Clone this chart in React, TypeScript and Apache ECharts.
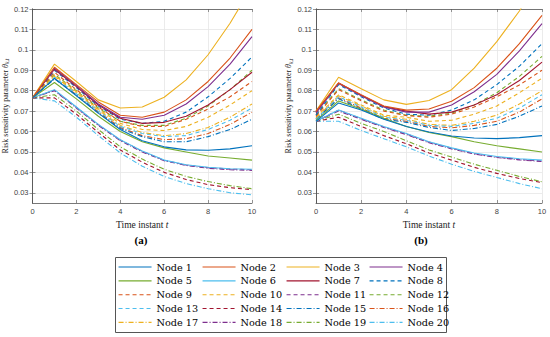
import React, { useEffect, useRef } from "react";
import * as echarts from "echarts";

const timeSteps = [0, 1, 2, 3, 4, 5, 6, 7, 8, 9, 10];
const nodeNames = Array.from({ length: 20 }, (_, i) => `Node ${i + 1}`);
const yTickValues = [0.03, 0.04, 0.05, 0.06, 0.07, 0.08, 0.09, 0.1, 0.11, 0.12];

// (a) values per node, t = 0..10
const thetaA: number[][] = [
  [0.0765, 0.086, 0.0775, 0.069, 0.061, 0.0555, 0.0525, 0.051, 0.0508, 0.0515, 0.053],
  [0.0765, 0.0915, 0.083, 0.0745, 0.068, 0.067, 0.0695, 0.0755, 0.0845, 0.096, 0.11],
  [0.0765, 0.093, 0.0845, 0.0755, 0.0715, 0.072, 0.0768, 0.0853, 0.0976, 0.113, 0.131],
  [0.0765, 0.091, 0.0825, 0.0735, 0.067, 0.066, 0.068, 0.0735, 0.082, 0.093, 0.1065],
  [0.0765, 0.084, 0.076, 0.0675, 0.06, 0.055, 0.052, 0.05, 0.048, 0.047, 0.046],
  [0.0765, 0.0805, 0.072, 0.0635, 0.056, 0.0505, 0.046, 0.0437, 0.0425, 0.0418, 0.0415],
  [0.0765, 0.0905, 0.082, 0.073, 0.0665, 0.064, 0.0645, 0.0675, 0.073, 0.0805, 0.089],
  [0.0765, 0.09, 0.0815, 0.0725, 0.066, 0.064, 0.065, 0.0695, 0.077, 0.086, 0.0965],
  [0.0765, 0.089, 0.0805, 0.072, 0.065, 0.0625, 0.0625, 0.066, 0.071, 0.077, 0.0845],
  [0.0765, 0.0875, 0.0795, 0.071, 0.064, 0.061, 0.0605, 0.0625, 0.067, 0.073, 0.08],
  [0.0765, 0.0802, 0.0718, 0.0633, 0.0558, 0.0503, 0.0459, 0.0436, 0.0423, 0.0416, 0.0413],
  [0.0765, 0.088, 0.08, 0.0715, 0.065, 0.063, 0.063, 0.0665, 0.0725, 0.0805, 0.09],
  [0.0765, 0.0865, 0.0785, 0.07, 0.0625, 0.059, 0.0575, 0.058, 0.061, 0.0655, 0.0715],
  [0.0765, 0.0765, 0.0685, 0.0595, 0.051, 0.045, 0.04, 0.0365, 0.034, 0.0325, 0.0315],
  [0.0765, 0.0858, 0.0778, 0.069, 0.0615, 0.0575, 0.055, 0.055, 0.0575, 0.061, 0.066],
  [0.0765, 0.086, 0.078, 0.0695, 0.062, 0.058, 0.056, 0.0565, 0.059, 0.0635, 0.0695],
  [0.0765, 0.087, 0.079, 0.0705, 0.063, 0.0595, 0.058, 0.059, 0.062, 0.067, 0.0735],
  [0.0765, 0.08, 0.0715, 0.063, 0.0555, 0.05, 0.0457, 0.0434, 0.042, 0.0413, 0.041],
  [0.0765, 0.078, 0.07, 0.061, 0.0525, 0.0465, 0.0415, 0.038, 0.0355, 0.0335, 0.032],
  [0.0765, 0.075, 0.067, 0.058, 0.0495, 0.043, 0.038, 0.0345, 0.032, 0.03, 0.029],
];

// (b) values per node, t = 0..10
const thetaB: number[][] = [
  [0.065, 0.074, 0.0705, 0.066, 0.0625, 0.0598, 0.0578, 0.0568, 0.0565, 0.057, 0.058],
  [0.07, 0.0838, 0.078, 0.0725, 0.0705, 0.071, 0.0748, 0.0815, 0.091, 0.103, 0.1169],
  [0.07, 0.0866, 0.081, 0.0755, 0.0733, 0.0752, 0.0805, 0.091, 0.104, 0.119, 0.137],
  [0.069, 0.0835, 0.0775, 0.072, 0.0695, 0.0695, 0.073, 0.0795, 0.088, 0.0995, 0.1128],
  [0.0655, 0.075, 0.071, 0.0665, 0.0625, 0.0595, 0.0575, 0.055, 0.053, 0.0515, 0.05],
  [0.065, 0.0705, 0.0665, 0.0625, 0.059, 0.055, 0.052, 0.0495, 0.0478, 0.0467, 0.046],
  [0.0695, 0.0838, 0.0778, 0.0722, 0.07, 0.0685, 0.0695, 0.073, 0.078, 0.085, 0.094],
  [0.068, 0.083, 0.077, 0.0715, 0.0685, 0.068, 0.0705, 0.0755, 0.083, 0.092, 0.103],
  [0.0675, 0.0805, 0.075, 0.07, 0.0678, 0.067, 0.0685, 0.072, 0.077, 0.0828, 0.09],
  [0.067, 0.078, 0.073, 0.068, 0.067, 0.065, 0.0655, 0.0685, 0.0725, 0.079, 0.0861],
  [0.065, 0.0705, 0.0663, 0.0622, 0.0588, 0.0548, 0.0518, 0.0492, 0.0475, 0.0463, 0.0455],
  [0.068, 0.081, 0.0755, 0.0705, 0.068, 0.0675, 0.069, 0.073, 0.079, 0.087, 0.0968],
  [0.066, 0.077, 0.072, 0.067, 0.0655, 0.063, 0.0625, 0.064, 0.0665, 0.0715, 0.078],
  [0.065, 0.067, 0.0625, 0.058, 0.054, 0.0495, 0.046, 0.0425, 0.0395, 0.037, 0.035],
  [0.066, 0.076, 0.071, 0.066, 0.0645, 0.062, 0.0605, 0.0615, 0.0635, 0.0675, 0.0725],
  [0.066, 0.0765, 0.0715, 0.0665, 0.065, 0.0625, 0.0618, 0.063, 0.065, 0.0695, 0.076],
  [0.0665, 0.0775, 0.0725, 0.0675, 0.066, 0.0635, 0.063, 0.065, 0.068, 0.0735, 0.08],
  [0.065, 0.07, 0.066, 0.062, 0.0585, 0.0545, 0.0515, 0.049, 0.0473, 0.0461, 0.0453],
  [0.065, 0.0685, 0.064, 0.06, 0.0555, 0.051, 0.0475, 0.044, 0.041, 0.038, 0.0354],
  [0.065, 0.065, 0.0605, 0.0565, 0.0525, 0.048, 0.044, 0.0405, 0.0375, 0.0345, 0.032],
];

const palette = ["#0072BD", "#D95319", "#EDB120", "#7E2F8E", "#77AC30", "#4DBEEE", "#A2142F"];
const dashPatterns: any[] = ["solid", [4, 3], [5, 2, 1, 2]];

const SERIF = "'Liberation Serif', 'DejaVu Serif', serif";
const SANS = "'Liberation Sans', Arial, sans-serif";
const AXIS_COLOR = "#555";

function makeAxes(gridIndex: number) {
  const x = {
    type: "value",
    gridIndex,
    min: 0,
    max: 10,
    interval: 2,
    name: "{n|Time instant }{i|t}",
    nameLocation: "middle",
    nameGap: 10,
    nameTextStyle: {
      rich: {
        n: { fontFamily: SERIF, fontSize: 9.5, color: "#222" },
        i: { fontFamily: SERIF, fontSize: 9.5, fontStyle: "italic", color: "#222" },
      },
    },
    axisLine: { show: true, lineStyle: { color: AXIS_COLOR, width: 0.8 } },
    axisTick: { show: true, inside: true, length: 3, lineStyle: { color: AXIS_COLOR, width: 0.6 } },
    axisLabel: { fontFamily: SANS, fontSize: 7.5, color: "#444", margin: 4 },
    splitLine: { show: true, lineStyle: { color: "#e6e6e6", width: 0.8 } },
  };
  const xTop = {
    type: "value",
    gridIndex,
    position: "top",
    min: 0,
    max: 10,
    interval: 2,
    axisLine: { show: true, lineStyle: { color: AXIS_COLOR, width: 0.8 } },
    axisTick: { show: true, inside: true, length: 3, lineStyle: { color: AXIS_COLOR, width: 0.6 } },
    axisLabel: { show: false },
    splitLine: { show: false },
  };
  const y = {
    type: "value",
    gridIndex,
    min: 0.025,
    max: 0.12,
    name: "{n|Risk sensitivity parameter }{i|θ}{s|k,t}",
    nameLocation: "middle",
    nameGap: 22,
    nameRotate: 90,
    nameTextStyle: {
      rich: {
        n: { fontFamily: SERIF, fontSize: 8, color: "#222" },
        i: { fontFamily: SERIF, fontSize: 8, fontStyle: "italic", color: "#222" },
        s: { fontFamily: SERIF, fontSize: 5.5, fontStyle: "italic", color: "#222", padding: [4, 0, 0, 0] },
      },
    },
    axisLine: { show: true, lineStyle: { color: AXIS_COLOR, width: 0.8 } },
    axisTick: { show: true, inside: true, length: 3, customValues: yTickValues, lineStyle: { color: AXIS_COLOR, width: 0.6 } },
    axisLabel: { fontFamily: SANS, fontSize: 7.5, color: "#444", margin: 4, customValues: yTickValues },
    splitLine: { show: true, lineStyle: { color: "#e6e6e6", width: 0.8 } },
  };
  const yRight = {
    type: "value",
    gridIndex,
    position: "right",
    min: 0.025,
    max: 0.12,
    axisLine: { show: true, lineStyle: { color: AXIS_COLOR, width: 0.8 } },
    axisTick: { show: true, inside: true, length: 3, customValues: yTickValues, lineStyle: { color: AXIS_COLOR, width: 0.6 } },
    axisLabel: { show: false, customValues: yTickValues },
    splitLine: { show: false },
  };
  return { x, xTop, y, yRight };
}

export default function App() {
  const ref = useRef<HTMLDivElement>(null);
  useEffect(() => {
    if (!ref.current) return;
    const chart = echarts.init(ref.current, undefined, { renderer: "svg" });
    const axA = makeAxes(0);
    const axB = makeAxes(1);

    const series: any[] = [];
    [thetaA, thetaB].forEach((dataset, gi) => {
      dataset.forEach((vals, i) => {
        series.push({
          type: "line",
          name: nodeNames[i],
          xAxisIndex: gi,
          yAxisIndex: gi,
          data: timeSteps.map((t, k) => [t, vals[k]]),
          symbol: "none",
          clip: true,
          lineStyle: {
            color: palette[i % 7],
            width: 1.1,
            type: dashPatterns[Math.floor(i / 7)],
          },
          itemStyle: { color: palette[i % 7] },
          z: 20 - i,
        });
      });
    });

    const colLefts = [118, 202, 286, 369];
    const legends = colLefts.map((left, c) => ({
      orient: "vertical",
      left,
      top: 262,
      padding: 0,
      itemWidth: 33,
      itemHeight: 10,
      itemGap: 3.85,
      selectedMode: false,
      itemStyle: { opacity: 0 },
      lineStyle: { width: 1.1 },
      data: [0, 1, 2, 3, 4].map((r) => nodeNames[r * 4 + c]),
      textStyle: { fontFamily: "'DejaVu Serif', serif", fontSize: 9.7, color: "#000", lineHeight: 10 },
    }));

    chart.setOption({
      animation: false,
      backgroundColor: "#fff",
      grid: [
        { left: 32, top: 9, width: 220, height: 194, show: false, containLabel: false },
        { left: 316, top: 9, width: 226, height: 194, show: false, containLabel: false },
      ],
      xAxis: [axA.x, axB.x, axA.xTop, axB.xTop],
      yAxis: [axA.y, axB.y, axA.yRight, axB.yRight],
      legend: legends,
      series,
      graphic: [
        {
          type: "rect",
          shape: { x: 115.5, y: 257.5, width: 331, height: 75 },
          style: { fill: "none", stroke: "#555", lineWidth: 1 },
          silent: true,
        },
        {
          type: "text",
          x: 141,
          y: 240,
          style: { text: "(a)", font: `bold 11px ${SERIF}`, fill: "#000", textAlign: "center", textVerticalAlign: "middle" },
        },
        {
          type: "text",
          x: 421,
          y: 240,
          style: { text: "(b)", font: `bold 11px ${SERIF}`, fill: "#000", textAlign: "center", textVerticalAlign: "middle" },
        },
      ],
    });
    return () => chart.dispose();
  }, []);
  return <div ref={ref} style={{ position: "fixed", left: 0, top: 0, width: 550, height: 337 }} />;
}
